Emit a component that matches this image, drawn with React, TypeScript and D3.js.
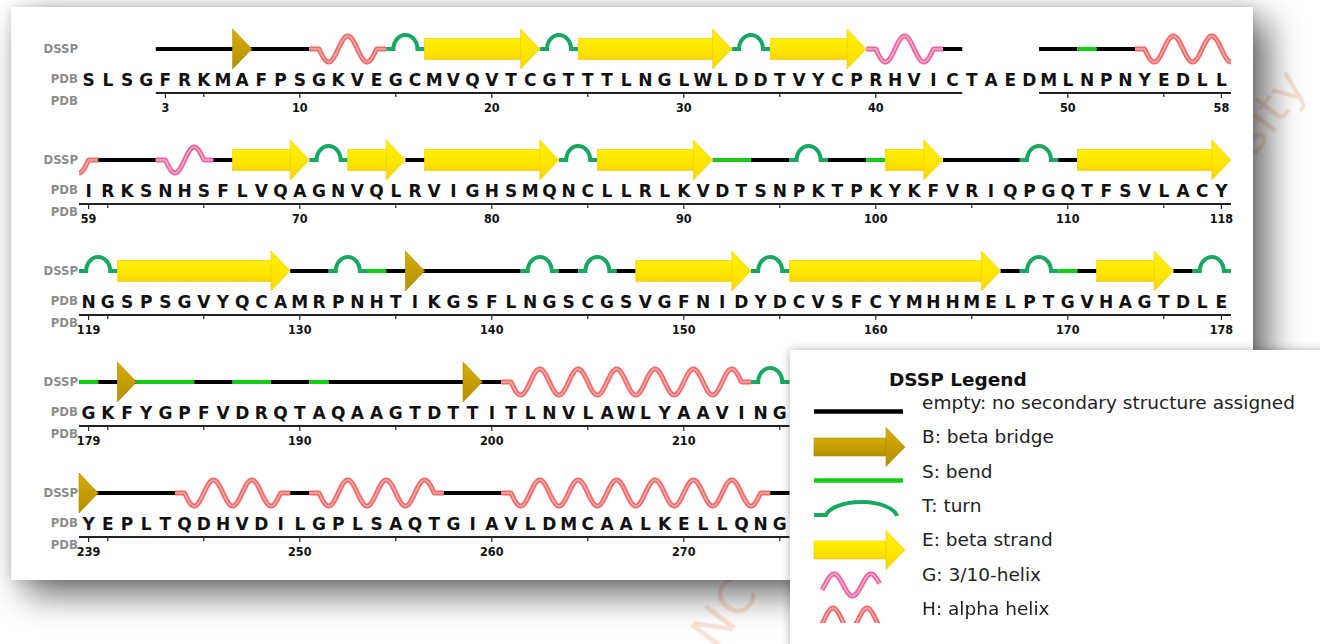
import React from 'react';
import * as d3 from 'd3';

// residue number of the first position in each row
const ROW_FIRST_RESIDUE = [-1, 59, 119, 179, 239];

// one-letter sequence per row (rows 4 and 5 are hidden by the legend after 37 residues)
const SEQUENCE_ROWS = [
  'SLSGFRKMAFPSGKVEGCMVQVTCGTTTLNGLWLDDTVYCPRHVICTAEDMLNPNYEDLL',
  'IRKSNHSFLVQAGNVQLRVIGHSMQNCLLRLKVDTSNPKTPKYKFVRIQPGQTFSVLACY',
  'NGSPSGVYQCAMRPNHTIKGSFLNGSCGSVGFNIDYDCVSFCYMHHMELPTGVHAGTDLE',
  'GKFYGPFVDRQTAQAAGTDTTITLNVLAWLYAAVING',
  'YEPLTQDHVDILGPLSAQTGIAVLDMCAALKELLQNG',
];

// DSSP code per residue, ' ' = residue without coordinates
const DSSP_ROWS = [
  '    ----B---HHHHTTEEEEEETTEEEEEEEETTEEEEEGGGG-    --S--HHHHH',
  'H---GGG-EEEETTEEE-EEEEEEETTEEEEEESS--TT--SEEE----TT-EEEEEEEE',
  'TTEEEEEEEEE--TTS-B-----TT-TT-EEEEEETTEEEEEEEEEEE-TTS-EEEE-TT',
  'S-BSSS--SS--S-------B-HHHHHHHHHHHHHTT',
  'B----HHHHHH-HHHHHHH---HHHHHHHHHHHHHH-',
];

const LEGEND_CODES = ['-', 'B', 'S', 'T', 'E', 'G', 'H'];
const LEGEND_LABELS = [
  'empty: no secondary structure assigned',
  'B: beta bridge',
  'S: bend',
  'T: turn',
  'E: beta strand',
  'G: 3/10-helix',
  'H: alpha helix',
];

const COLORS = {
  coil: '#000000',
  bend: '#14cc14',
  turn: '#18a862',
  strand: '#ffe600',
  bridge: '#c9a200',
  helixH: '#ef6a6a',
  helixHLight: '#f8a8a8',
  helixG: '#ec649f',
  helixGLight: '#f7aacb',
};

const ROW_LEN = 60;
const x = d3.scaleBand<number>().domain(d3.range(ROW_LEN)).range([79, 1231]);
const bw = x.bandwidth();
const rowY = d3.scaleLinear().domain([0, 4]).range([49, 49 + 4 * 111]);

const HELIX_AMP = 13;
const HEAD_HALF = 20;
const BODY_HALF = 10.5;
const ARCH_RX = 12;
const ARCH_RY = 14;

type Res = { row: number; idx: number; code: string; num: number };

const residues: Res[] = DSSP_ROWS.flatMap((codes, row) =>
  codes.split('').map((code, idx) => ({ row, idx, code, num: ROW_FIRST_RESIDUE[row] + idx }))
);

const segments: Res[][] = [];
residues.forEach((r, k) => {
  if (r.code === ' ') return;
  const prev = residues[k - 1];
  if (prev && prev.code === r.code && prev.num + 1 === r.num) segments[segments.length - 1].push(r);
  else segments.push([r]);
});

const line = d3.line();

function helixPath(seg: Res[], part: Res[]) {
  const n = seg.length;
  const total = n * bw;
  const stub = bw / 2;
  const u0 = seg.indexOf(part[0]) * bw;
  const u1 = u0 + part.length * bw;
  const x0 = x(part[0].idx)!;
  const y0 = rowY(part[0].row);
  const us = d3.range(u0, u1, 0.5).concat([u1]);
  const pts = us.map(u => {
    const dy = u < stub || u > total - stub ? 0 : HELIX_AMP * Math.sin((Math.PI * (u - stub)) / bw);
    return [x0 + (u - u0), y0 + dy] as [number, number];
  });
  return line(pts)!;
}

function SegmentMark({ seg }: { seg: Res[] }) {
  const parts = d3.groups(seg, d => d.row).map(g => g[1]);
  const code = seg[0].code;
  return (
    <g>
      {parts.map((part, pi) => {
        const y = rowY(part[0].row);
        const xl = x(part[0].idx)!;
        const xr = x(part[part.length - 1].idx)! + bw;
        const key = `${part[0].num}`;
        if (code === '-' || code === 'S') {
          return (
            <line key={key} x1={xl} x2={xr} y1={y} y2={y}
              stroke={code === '-' ? COLORS.coil : COLORS.bend} strokeWidth={4} />
          );
        }
        if (code === 'T') {
          const cx = (xl + xr) / 2;
          return (
            <path key={key} fill="none" stroke={COLORS.turn} strokeWidth={4}
              d={`M${xl},${y}L${cx - ARCH_RX},${y}A${ARCH_RX},${ARCH_RY} 0 0 1 ${cx + ARCH_RX},${y}L${xr},${y}`} />
          );
        }
        if (code === 'B') {
          return (
            <g key={key}>
              <line x1={xl} x2={xr} y1={y} y2={y} stroke={COLORS.coil} strokeWidth={4} />
              {part.map(r => {
                const a = x(r.idx)!;
                return (
                  <path key={r.num} d={`M${a},${y - HEAD_HALF}L${a + bw},${y}L${a},${y + HEAD_HALF}Z`}
                    fill="url(#bridgeGrad)" stroke="#b08c00" strokeWidth={0.6} />
                );
              })}
            </g>
          );
        }
        if (code === 'E') {
          const last = pi === parts.length - 1;
          const bodyEnd = last ? xr - bw : xr;
          return (
            <g key={key}>
              <rect x={xl} y={y - BODY_HALF} width={bodyEnd - xl + 0.5} height={BODY_HALF * 2}
                fill="url(#strandGrad)" stroke="#f2c800" strokeWidth={0.6} />
              {last && (
                <path d={`M${bodyEnd},${y - HEAD_HALF}L${xr},${y}L${bodyEnd},${y + HEAD_HALF}Z`}
                  fill="url(#strandGrad)" stroke="#f2c800" strokeWidth={0.6} />
              )}
            </g>
          );
        }
        const dark = code === 'H' ? COLORS.helixH : COLORS.helixG;
        const light = code === 'H' ? COLORS.helixHLight : COLORS.helixGLight;
        const d = helixPath(seg, part);
        return (
          <g key={key} fill="none" strokeLinejoin="round">
            <path d={d} stroke={dark} strokeWidth={5} />
            <path d={d} stroke={light} strokeWidth={1.6} />
          </g>
        );
      })}
    </g>
  );
}

function Row({ row }: { row: number }) {
  const y = rowY(row);
  const seq = SEQUENCE_ROWS[row];
  const codes = DSSP_ROWS[row];
  const first = ROW_FIRST_RESIDUE[row];
  const resolved = d3.range(codes.length).filter(i => codes[i] !== ' ');
  const firstResolved = resolved[0];
  // continuous runs of resolved residues for the ruler
  const runs: number[][] = [];
  resolved.forEach(i => {
    const run = runs[runs.length - 1];
    if (run && run[run.length - 1] === i - 1) run.push(i);
    else runs.push([i]);
  });
  const rulerY = y + 44;
  const labelFont = { fontFamily: 'DejaVu Sans Condensed, DejaVu Sans', fontWeight: 'bold' as const };
  return (
    <g>
      <text x={78} y={y + 4} textAnchor="end" fontSize={13} fill="#8c8c8c" {...labelFont}>DSSP</text>
      <text x={78} y={y + 34} textAnchor="end" fontSize={13} fill="#8c8c8c" {...labelFont}>PDB</text>
      <text x={78} y={y + 56} textAnchor="end" fontSize={13} fill="#8c8c8c" {...labelFont}>PDB</text>
      {seq.split('').map((ch, i) => (
        <text key={i} x={x(i)! + bw / 2} y={y + 37} textAnchor="middle" fontSize={17}
          fontFamily="DejaVu Sans" fontWeight="bold" fill="#111">{ch}</text>
      ))}
      {runs.map(run => (
        <line key={run[0]} x1={x(run[0])!} x2={x(run[run.length - 1])! + bw} y1={rulerY} y2={rulerY}
          stroke="#222" strokeWidth={2} />
      ))}
      {resolved.map(i => {
        const num = first + i;
        const edge = i === firstResolved || i === ROW_LEN - 1;
        const labelled = edge || (num % 10 === 0 && i - firstResolved > 2 && ROW_LEN - 1 - i > 2);
        if (!labelled && num % 5 !== 0) return null;
        const cx = x(i)! + bw / 2;
        return (
          <g key={i}>
            <line x1={cx} x2={cx} y1={rulerY} y2={rulerY + (labelled ? 5 : 4)} stroke="#222" strokeWidth={1.2} />
            {labelled && (
              <text x={cx} y={y + 63} textAnchor="middle" fontSize={12.5} fill="#111" {...labelFont}>{num}</text>
            )}
          </g>
        );
      })}
    </g>
  );
}

function LegendIcon({ code, y }: { code: string; y: number }) {
  const x0 = 814;
  const x1 = 905;
  if (code === '-' || code === 'S') {
    return <line x1={x0} x2={903} y1={y} y2={y} stroke={code === '-' ? COLORS.coil : COLORS.bend} strokeWidth={4.5} />;
  }
  if (code === 'B' || code === 'E') {
    const hb = x1 - 19;
    const fill = code === 'B' ? 'url(#bridgeGrad)' : 'url(#strandGrad)';
    const stroke = code === 'B' ? '#b08c00' : '#f2c800';
    return (
      <g>
        <rect x={x0} y={y - 9} width={hb - x0} height={18} fill={fill} stroke={stroke} strokeWidth={0.6} />
        <path d={`M${hb},${y - 19.5}L${x1},${y}L${hb},${y + 19.5}Z`} fill={fill} stroke={stroke} strokeWidth={0.6} />
      </g>
    );
  }
  if (code === 'T') {
    return (
      <path d={`M${x0},${y}L${826},${y}A36,16 0 0 1 ${897},${y + 1}`} fill="none"
        stroke={COLORS.turn} strokeWidth={4} />
    );
  }
  const isG = code === 'G';
  const period = isG ? 37 : 34;
  const xs = d3.range(isG ? 822 : 818, isG ? 880 : 882, 0.5);
  const peak = isG ? 834 : 833;
  const cy = isG ? y : y + 11;
  const pts = xs.map(px => [px, cy - 11 * Math.sin(Math.PI / 2 + ((px - peak) / period) * 2 * Math.PI)] as [number, number]);
  const d = line(pts)!;
  const dark = isG ? COLORS.helixG : COLORS.helixH;
  const light = isG ? COLORS.helixGLight : COLORS.helixHLight;
  return (
    <g fill="none" clipPath={isG ? undefined : 'url(#legendHClip)'}>
      <path d={d} stroke={dark} strokeWidth={5} />
      <path d={d} stroke={light} strokeWidth={1.6} />
    </g>
  );
}

export default function App() {
  const legendRowY = d3.scaleLinear().domain([0, 6]).range([409, 615]);
  const iconY = [411.5, 447, 480.5, 515, 550, 585, 608];
  return (
    <svg width={1320} height={644} style={{ position: 'absolute', left: 0, top: 0, background: '#fff' }}>
      <defs>
        <linearGradient id="strandGrad" x1="0" y1="0" x2="0" y2="1">
          <stop offset="0%" stopColor="#fff000" />
          <stop offset="55%" stopColor={COLORS.strand} />
          <stop offset="100%" stopColor="#f7d600" />
        </linearGradient>
        <linearGradient id="bridgeGrad" x1="0" y1="0" x2="0" y2="1">
          <stop offset="0%" stopColor="#d6ad08" />
          <stop offset="100%" stopColor="#b38f00" />
        </linearGradient>
        <filter id="bigShadow" x="-10%" y="-10%" width="130%" height="130%">
          <feGaussianBlur stdDeviation="18" />
        </filter>
        <filter id="softShadow" x="-10%" y="-10%" width="130%" height="130%">
          <feGaussianBlur stdDeviation="5" />
        </filter>
        <clipPath id="legendHClip">
          <rect x={800} y={590} width={120} height={33} />
        </clipPath>
      </defs>

      {/* watermark behind the screenshot cards */}
      <g fontFamily="DejaVu Sans" fontSize={50} fill="#f3c1a4" opacity={0.45}>
        <text x={1309} y={86} textAnchor="end" transform="rotate(-53 1309 86)">University</text>
        <text x={716} y={652} transform="rotate(-53 716 652)">NC State University</text>
      </g>

      {/* main card */}
      <rect x={11} y={7} width={1242} height={573} fill="#000" opacity={0.12} filter="url(#softShadow)" />
      <rect x={25} y={20} width={1242} height={573} fill="#000" opacity={0.62} filter="url(#bigShadow)" />
      <rect x={11} y={7} width={1242} height={573} fill="#fff" />

      {d3.range(5).map(r => <Row key={r} row={r} />)}
      {segments.map(seg => <SegmentMark key={seg[0].num} seg={seg} />)}

      {/* legend card */}
      <rect x={790} y={350} width={540} height={300} fill="#000" opacity={0.3} filter="url(#softShadow)" />
      <rect x={790} y={350} width={540} height={300} fill="#fff" />
      <text x={889} y={386} fontFamily="DejaVu Sans" fontWeight="bold" fontSize={18.5} fill="#111">DSSP Legend</text>
      {LEGEND_CODES.map((code, i) => (
        <g key={code}>
          <LegendIcon code={code} y={iconY[i]} />
          <text x={922} y={legendRowY(i)} fontFamily="DejaVu Sans" fontSize={18.5} fill="#222">{LEGEND_LABELS[i]}</text>
        </g>
      ))}
    </svg>
  );
}
